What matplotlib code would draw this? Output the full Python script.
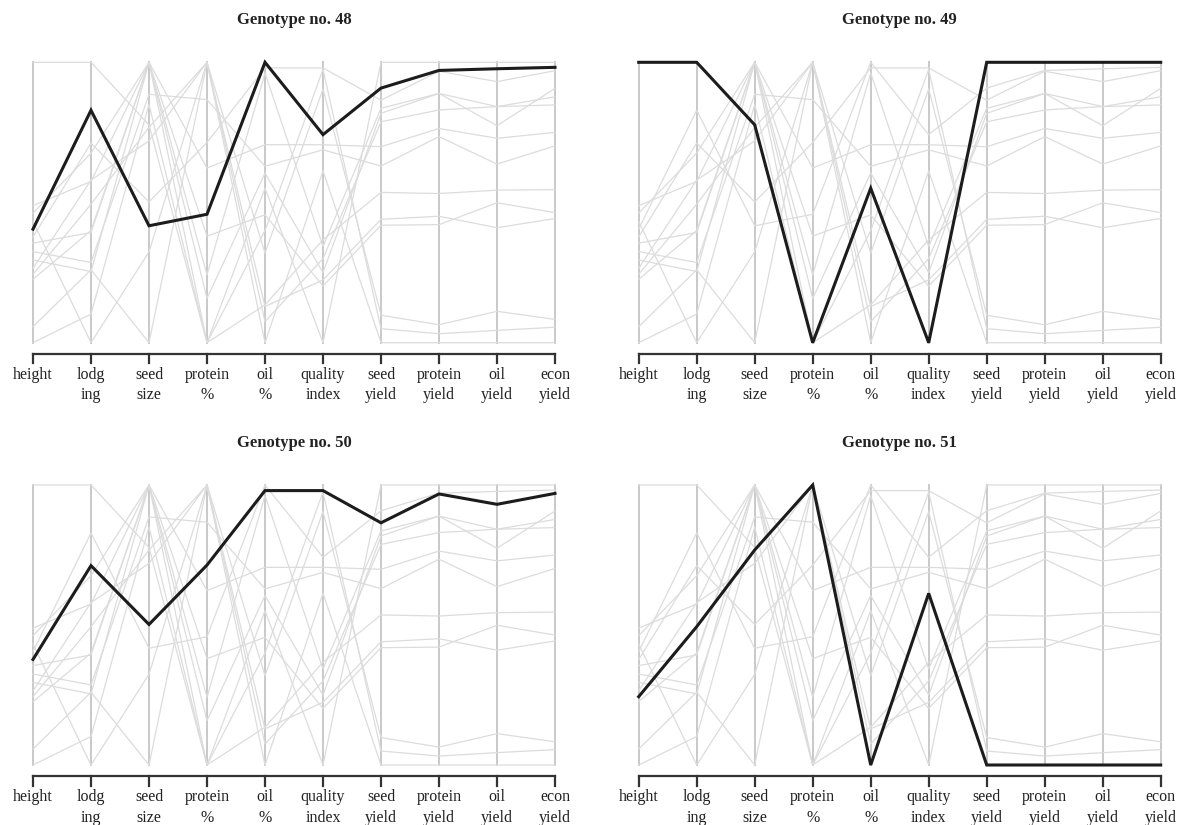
import numpy as np
import matplotlib.pyplot as plt

# parallel coordinate profiles, every trait scaled 0..1
traits = ["height", "lodging", "seed size", "protein %", "oil %", "quality index",
          "seed yield", "protein yield", "oil yield", "econ yield"]
label_top = ["height", "lodg", "seed", "protein", "oil", "quality", "seed", "protein", "oil", "econ"]
label_bot = ["", "ing", "size", "%", "%", "index", "yield", "yield", "yield", "yield"]

g42 = [0.489, 0.575, 1.0, 0.242, 0.962, 0.343, 0.836, 0.889, 0.842, 0.877]
g43 = [0.462, 0.676, 1.0, 0.158, 0.605, 0.25, 0.818, 0.889, 0.774, 0.907]
g44 = [0.432, 0.0, 0.324, 1.0, 0.075, 0.30, 0.788, 0.830, 0.842, 0.848]
g45 = [0.355, 0.393, 1.0, 0.623, 0.706, 0.706, 0.699, 0.764, 0.729, 0.750]
g46 = [0.325, 0.286, 0.886, 0.867, 0.629, 0.688, 0.630, 0.735, 0.637, 0.702]
g47 = [0.295, 0.254, 1.0, 0.0, 0.135, 0.367, 0.536, 0.532, 0.544, 0.546]
g48 = [0.405, 0.829, 0.417, 0.458, 1.0, 0.742, 0.908, 0.971, 0.977, 0.982]
g49 = [1.0, 1.0, 0.777, 0.0, 0.551, 0.0, 1.0, 1.0, 1.0, 1.0]
g50 = [0.377, 0.712, 0.502, 0.714, 0.980, 0.980, 0.865, 0.968, 0.931, 0.970]
g51 = [0.244, 0.494, 0.768, 1.0, 0.0, 0.613, 0.0, 0.0, 0.0, 0.0]
g52 = [0.265, 0.58, 0.72, 1.0, 0.129, 0.224, 0.440, 0.451, 0.410, 0.443]
g53 = [0.226, 0.40, 1.0, 0.38, 0.456, 0.202, 0.419, 0.421, 0.499, 0.464]
g54 = [0.057, 0.26, 0.0, 1.0, 0.319, 0.905, 0.098, 0.064, 0.112, 0.083]
g55 = [0.0, 0.102, 0.85, 0.0, 0.40, 0.975, 0.050, 0.032, 0.044, 0.055]

all_rows = [g42, g43, g44, g45, g46, g47, g48, g49, g50, g51, g52, g53, g54, g55]
shown = [48, 49, 50, 51]
shown_rows = [g48, g49, g50, g51]

plt.rcParams['font.family'] = ['Liberation Serif', 'DejaVu Serif']

W, H = 1182, 825
fig = plt.figure(figsize=(W / 100, H / 100), dpi=100)

# pixel boxes of the data area: left, right, top, bottom
boxes = [(33, 555, 62.3, 342.7), (638.7, 1160.7, 62.3, 342.7),
         (33, 555, 485, 765), (638.7, 1160.7, 485, 765)]

x = np.arange(len(traits))
for (l, r, t, b), num, row in zip(boxes, shown, shown_rows):
    ax = fig.add_axes([l / W, 1 - b / H, (r - l) / W, (b - t) / H])
    ax.set_xlim(0, len(traits) - 1)
    ax.set_ylim(0, 1)
    ax.axis('off')
    pu = b - t  # pixels per data unit
    for xi in x:
        ax.plot([xi, xi], [0, 1], color='#c9c9c9', lw=1.4, zorder=1, clip_on=False)
    for other in all_rows:
        ax.plot(x, other, color='#dcdcdc', lw=0.9, zorder=2, clip_on=False)
    ax.plot(x, row, color='#1c1c1c', lw=2.2, zorder=3, clip_on=False,
            solid_joinstyle='miter')
    # bottom axis with ticks
    ya = -11 / pu
    ax.plot([0, len(traits) - 1], [ya, ya], color='#333333', lw=1.6, clip_on=False)
    for xi in x:
        ax.plot([xi, xi], [ya, ya - 9.5 / pu], color='#333333', lw=1.6, clip_on=False)
    for xi, a, c in zip(x, label_top, label_bot):
        ax.text(xi, -32 / pu, a, ha='center', va='center', fontsize=11.5, color='#222222')
        ax.text(xi, -52.5 / pu, c, ha='center', va='center', fontsize=11.5, color='#222222')
    ax.text((len(traits) - 1) / 2, 1 + 42 / pu, f"Genotype no. {num}", ha='center',
            va='center', fontsize=12, fontweight='bold', color='#222222')

fig.savefig("out.png", dpi=100)
